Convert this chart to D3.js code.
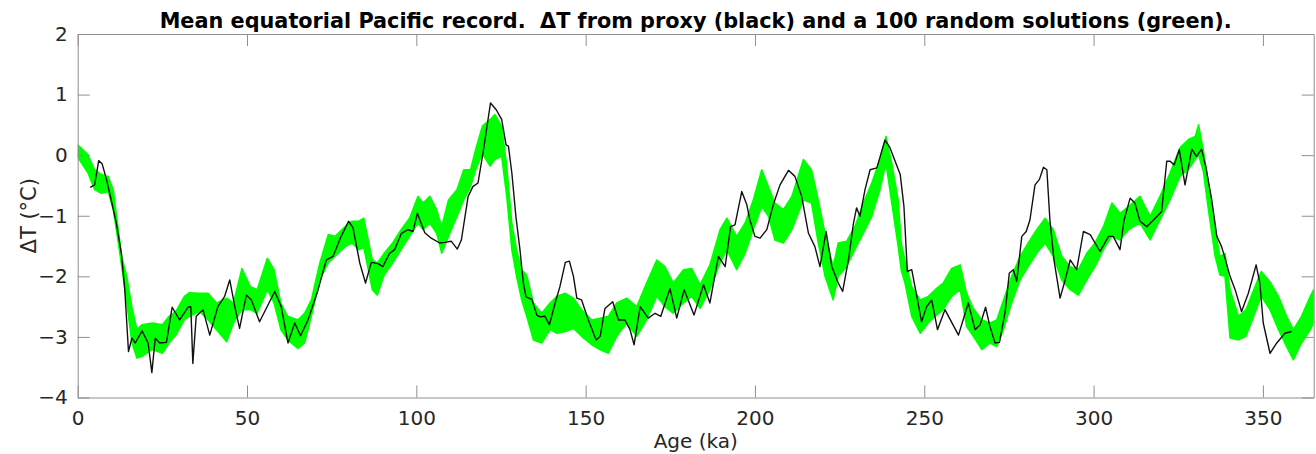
<!DOCTYPE html>
<html>
<head>
<meta charset="utf-8">
<script src="https://d3js.org/d3.v7.min.js"></script>
<style>
  body { margin: 0; background: white; }
  svg { display: block; }
</style>
</head>
<body>
<div id="chart"></div>
<script>

// proxy record (black)
var proxyAge = [3.7,5,6.2,7.2,8.5,9.9,11.4,12.9,13.9,15,16,17,19,20.8,21.9,22.9,24.2,26.2,27.9,30.1,32.6,33.4,34,35,37,39,41.4,43.4,44.9,46.4,47.8,49.8,51.3,53.7,58.2,60.1,62.1,64.1,65.8,68,71,73.4,75.4,77.8,80,81.3,83.3,85,86.7,88.7,90.1,92.1,93.6,95.6,97.5,99,100.3,102.5,104.4,106.9,108.4,110.3,112.1,113.3,115.3,116.7,118.2,119.7,121.9,123.6,125.2,126.5,127.2,128.2,129.4,130.6,131.6,132.4,134.1,135.6,136.5,138,139.3,141,142.4,144,145.2,146.4,147.4,148.8,150.8,153.1,154.3,155.7,158,159.7,161.6,163.1,164.3,166.1,168.5,170.5,172.2,174.9,176.9,179.1,182,184.8,186.7,189.2,191.2,192.8,194.1,196.1,197.6,198.5,200,201.5,203.5,205.4,207.4,209.9,211.8,213.8,215.8,217.7,219.2,221,222.7,224.6,225.9,227.6,229.1,230,231,232.5,234,236,238.4,239.9,241.8,242.9,244,245,246.3,247.8,249.2,250.7,252.2,253.9,256.1,260.1,263,265,266.5,268.1,269.4,270.9,272.2,273.9,275.1,276.3,277.3,278.8,280.1,281.2,282.7,284,285.2,286.2,287.1,288.3,290.1,291.6,293.1,295,297,299,301.9,304.4,305.8,307.8,309,310.8,312.2,313.7,315.7,318.2,320.1,321.6,322.6,323.8,325.3,327,329,330.4,331.9,333.2,334.9,336.4,337.8,338.8,340.3,341.8,343.7,345.7,348,349.1,350.1,352.1,354.1,356.5,358.5];
var proxyDT = [-0.53,-0.49,-0.09,-0.14,-0.40,-0.74,-1.12,-1.62,-2.22,-3.24,-3.02,-3.10,-2.90,-3.10,-3.59,-3.02,-3.10,-3.09,-2.51,-2.72,-2.51,-2.50,-3.44,-2.66,-2.55,-2.97,-2.50,-2.33,-2.06,-2.50,-2.86,-2.31,-2.39,-2.75,-2.25,-2.50,-3.10,-2.77,-2.98,-2.72,-2.22,-1.73,-1.67,-1.34,-1.09,-1.20,-1.78,-2.11,-1.77,-1.79,-1.84,-1.62,-1.56,-1.29,-1.23,-1.26,-0.96,-1.28,-1.37,-1.45,-1.44,-1.42,-1.55,-1.40,-0.68,-0.52,-0.46,0.04,0.86,0.75,0.59,0.17,0.15,-0.29,-1.01,-1.56,-2.11,-2.34,-2.38,-2.64,-2.67,-2.66,-2.80,-2.44,-2.17,-1.77,-1.75,-2.00,-2.36,-2.39,-2.72,-3.05,-2.99,-2.53,-2.42,-2.72,-2.72,-2.88,-3.13,-2.50,-2.69,-2.61,-2.66,-2.20,-2.69,-2.22,-2.64,-2.14,-2.44,-1.67,-1.84,-1.18,-1.15,-0.60,-0.82,-1.07,-1.34,-1.37,-1.23,-0.82,-0.49,-0.25,-0.35,-0.68,-1.29,-1.51,-1.84,-1.26,-1.84,-2.11,-2.25,-1.73,-1.12,-0.87,-1.01,-0.57,-0.24,-0.21,0.25,0.12,-0.16,-0.32,-0.85,-1.92,-1.89,-2.33,-2.75,-2.50,-2.39,-2.88,-2.55,-2.97,-2.44,-2.88,-2.80,-2.51,-2.83,-3.10,-3.09,-2.58,-1.95,-1.89,-2.08,-1.34,-1.26,-1.07,-0.49,-0.40,-0.20,-0.24,-1.07,-1.73,-2.36,-2.06,-1.73,-1.89,-1.26,-1.31,-1.59,-1.34,-1.34,-1.56,-1.07,-0.71,-0.79,-1.09,-1.18,-1.04,-0.93,-0.10,-0.10,-0.16,0.09,-0.49,0.10,-0.02,0.10,-0.21,-0.74,-1.34,-1.51,-1.70,-2.00,-2.22,-2.58,-2.28,-1.81,-2.11,-2.77,-3.27,-3.10,-2.94,-2.91];

// envelope of the 100 random solutions (green)
var solAge = [0,3,5,7,9,10.5,12,13,14.5,16,17.5,19,22,25,27,29,31.5,33,36,38.5,41,44,46,48.5,51,53,56,58,60,62,65,67,69,71.5,74,76,79,81,83,84.5,87,88.5,90.5,93,95.5,98,100.5,102,104,106,107.5,109.5,112,114,116,117.5,119.5,121.8,123.2,125.2,126.7,128.2,129.6,131.1,132.6,134.6,137,139.5,141.5,144,146.4,148.8,151.8,154.2,156.7,159.2,162.1,165.1,168,171,173.4,175.9,178.9,181.3,183.8,186.7,189.7,191.7,194.6,197.1,199.5,202,204,205.9,208.4,210.9,214.3,216.7,218.7,220.7,223.1,224.6,227.1,229.5,232,234.5,236.9,238.7,240.4,242.3,243.2,244.3,246.3,248.8,251.2,253.2,255.6,258.1,260.6,262.5,264.5,267,269.4,271.4,273.4,275.8,278.3,280.7,283.2,285.7,288.1,290.6,293.1,295.5,298,300.4,302.9,305.4,307.8,310.3,313.7,316.7,319.6,322.6,325.5,328,330,331,332.4,333.9,335.9,337.3,338.8,340.3,342.8,345,347.3,349.5,352.1,354.6,357,359,361.4,364,365];
var solUpper = [0.17,0.01,-0.24,-0.32,-0.35,-0.57,-1.23,-1.67,-2.00,-2.50,-2.88,-2.80,-2.77,-2.80,-2.66,-2.58,-2.33,-2.27,-2.28,-2.28,-2.44,-2.36,-2.44,-1.87,-2.17,-2.22,-1.70,-1.89,-2.44,-2.66,-2.72,-2.61,-2.39,-1.78,-1.31,-1.34,-1.18,-1.09,-1.09,-1.04,-1.73,-1.78,-1.62,-1.45,-1.23,-1.04,-0.68,-0.79,-0.68,-0.90,-1.18,-0.74,-0.57,-0.24,-0.24,0.09,0.48,0.59,0.67,0.48,-0.18,-1.12,-1.56,-1.89,-1.98,-2.44,-2.61,-2.44,-2.33,-2.28,-2.36,-2.55,-2.72,-2.69,-2.66,-2.44,-2.36,-2.50,-2.11,-1.73,-1.84,-2.11,-1.89,-1.87,-2.14,-1.81,-1.23,-1.04,-1.34,-1.12,-0.74,-0.24,-0.52,-0.79,-0.90,-0.68,-0.07,-0.24,-0.74,-1.29,-1.84,-1.45,-1.42,-1.18,-0.79,-0.46,-0.07,0.31,-0.13,-0.74,-1.45,-1.73,-2.17,-2.39,-2.33,-2.22,-2.11,-1.87,-1.81,-2.28,-2.53,-2.72,-2.77,-2.72,-2.39,-2.00,-1.67,-1.45,-1.23,-1.04,-1.23,-1.67,-1.84,-1.89,-1.62,-1.45,-1.18,-0.79,-0.96,-0.85,-0.68,-1.01,-0.68,-0.29,0.12,0.26,0.31,0.50,0.09,-0.46,-1.23,-1.67,-1.62,-2.22,-2.66,-2.55,-2.22,-1.92,-2.09,-2.33,-2.66,-2.88,-2.66,-2.33,-2.22];
var solLower = [-0.03,-0.29,-0.57,-0.63,-0.60,-0.90,-1.45,-1.84,-2.44,-3.10,-3.35,-3.32,-3.21,-3.27,-3.10,-2.97,-2.72,-2.66,-2.58,-2.72,-2.88,-3.08,-2.77,-2.55,-2.55,-2.61,-2.22,-2.44,-2.88,-3.05,-3.19,-3.10,-2.66,-2.06,-1.78,-1.67,-1.51,-1.45,-1.56,-1.53,-2.22,-2.31,-1.98,-1.78,-1.56,-1.34,-1.12,-1.23,-1.12,-1.29,-1.62,-1.34,-1.01,-0.74,-0.52,-0.24,0.02,-0.18,-0.07,-0.02,-0.68,-1.56,-2.00,-2.39,-2.66,-3.05,-3.10,-2.88,-2.94,-2.91,-2.86,-2.99,-3.13,-3.21,-3.27,-2.99,-2.77,-2.99,-2.72,-2.33,-2.50,-2.61,-2.44,-2.33,-2.53,-2.22,-1.78,-1.56,-1.89,-1.62,-1.23,-0.85,-1.01,-1.40,-1.45,-1.23,-0.74,-0.79,-1.45,-2.00,-2.39,-2.00,-1.84,-1.56,-1.29,-1.01,-0.57,-0.13,-0.79,-1.51,-1.90,-2.11,-2.66,-2.94,-2.77,-2.66,-2.55,-2.33,-2.22,-2.83,-2.99,-3.21,-3.10,-3.16,-2.88,-2.44,-2.06,-1.84,-1.62,-1.45,-1.67,-2.06,-2.22,-2.31,-2.06,-1.84,-1.56,-1.34,-1.40,-1.23,-1.12,-1.40,-1.07,-0.74,-0.35,-0.24,-0.07,0.01,-0.27,-0.90,-1.67,-1.98,-2.00,-3.02,-3.05,-2.99,-2.66,-2.33,-2.55,-2.88,-3.16,-3.38,-3.10,-2.88,-2.77];

var xTicks = [0, 50, 100, 150, 200, 250, 300, 350];
var yTicks = [-4, -3, -2, -1, 0, 1, 2];

var titleText = "Mean equatorial Pacific record.  \u0394T from proxy (black) and a 100 random solutions (green).";
var xLabel = "Age (ka)";
var yLabel = "\u0394T (\u00B0C)";

var width = 1316, height = 454;
var margin = {top: 34, right: 2.3, bottom: 56.5, left: 77.7};
var w = width - margin.left - margin.right;
var h = height - margin.top - margin.bottom;

var svg = d3.select("#chart").append("svg")
  .attr("width", width)
  .attr("height", height)
  .style("font-family", "'DejaVu Sans', sans-serif");

var x = d3.scaleLinear().domain([0, 365]).range([0, w]);
var y = d3.scaleLinear().domain([-4, 2]).range([h, 0]);

var g = svg.append("g")
  .attr("transform", "translate(" + margin.left + "," + margin.top + ")");

g.append("clipPath").attr("id", "plotclip")
  .append("rect").attr("width", w).attr("height", h);

var plot = g.append("g").attr("clip-path", "url(#plotclip)");

// green band of solutions
var band = d3.area()
  .x(function(d, i){ return x(solAge[i]); })
  .y0(function(d, i){ return y(solLower[i]); })
  .y1(function(d, i){ return y(solUpper[i]); });

plot.append("path")
  .datum(solAge)
  .attr("d", band)
  .attr("fill", "#00ff00")
  .attr("stroke", "#00ff00")
  .attr("stroke-width", 1.5)
  .attr("stroke-linejoin", "round");

// proxy line
var line = d3.line()
  .x(function(d, i){ return x(proxyAge[i]); })
  .y(function(d){ return y(d); });

plot.append("path")
  .datum(proxyDT)
  .attr("d", line)
  .attr("fill", "none")
  .attr("stroke", "#111")
  .attr("stroke-width", 1.4)
  .attr("stroke-linejoin", "round");

// axes, ticks pointing inwards on all four sides
var fmt = d3.format("d");
var bottom = g.append("g").attr("transform", "translate(0," + h + ")")
  .call(d3.axisBottom(x).tickValues(xTicks).tickFormat(fmt).tickSizeInner(-12).tickSizeOuter(0).tickPadding(13));
var left = g.append("g")
  .call(d3.axisLeft(y).tickValues(yTicks).tickFormat(function(d){ return d < 0 ? "\u2212" + (-d) : d; }).tickSizeInner(-12).tickSizeOuter(0).tickPadding(10));
var top = g.append("g")
  .call(d3.axisTop(x).tickValues(xTicks).tickFormat("").tickSizeInner(-12).tickSizeOuter(0));
var right = g.append("g").attr("transform", "translate(" + w + ",0)")
  .call(d3.axisRight(y).tickValues(yTicks).tickFormat("").tickSizeInner(-12).tickSizeOuter(0));

g.selectAll(".domain, .tick line").attr("stroke", "#8f8f8f").attr("stroke-width", 1);
g.selectAll(".tick text")
  .attr("fill", "#262626")
  .style("font-size", "20px")
  .style("font-family", "'DejaVu Sans', sans-serif");

// title, sized so it spans the same width as in the original
var title = svg.append("text")
  .attr("x", margin.left + w / 2)
  .attr("y", 27.5)
  .attr("text-anchor", "middle")
  .attr("fill", "#000")
  .attr("xml:space", "preserve")
  .style("white-space", "pre")
  .style("font-size", "20px")
  .style("font-weight", "bold")
  .text(titleText);
var tw = title.node().getComputedTextLength();
title.style("font-size", (20 * 1072 / tw).toFixed(2) + "px");

svg.append("text")
  .attr("x", margin.left + w / 2)
  .attr("y", 448)
  .attr("text-anchor", "middle")
  .attr("fill", "#262626")
  .style("font-size", "20px")
  .text(xLabel);

svg.append("text")
  .attr("transform", "translate(36," + (margin.top + h / 2) + ") rotate(-90)")
  .attr("text-anchor", "middle")
  .attr("fill", "#262626")
  .style("font-size", "21px")
  .text(yLabel);

</script>
</body>
</html>
